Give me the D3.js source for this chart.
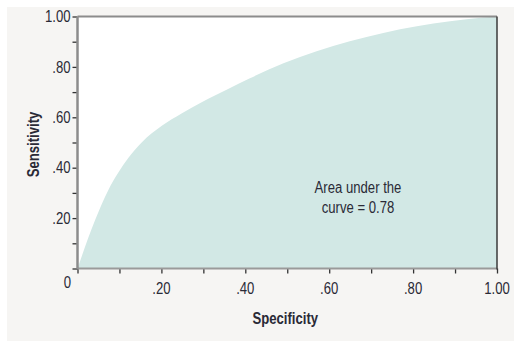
<!DOCTYPE html>
<html>
<head>
<meta charset="utf-8">
<script src="https://cdn.jsdelivr.net/npm/d3@7"></script>
<style>
  html, body { margin: 0; padding: 0; background: #ffffff; }
  svg { display: block; }
  text { font-family: "Liberation Sans", Arial, sans-serif; fill: #2a2a36; }
</style>
</head>
<body>
<svg id="chart" width="514" height="341"></svg>
<script>
// ROC curve: specificity (x) against sensitivity (y)
const specificity = [0, 0.042, 0.073, 0.097, 0.121, 0.153, 0.201, 0.248, 0.296, 0.359, 0.411, 0.491, 0.570, 0.649, 0.729, 0.809, 0.888, 0.967, 1.0];
const sensitivity = [0, 0.192, 0.310, 0.380, 0.438, 0.500, 0.566, 0.615, 0.660, 0.712, 0.755, 0.814, 0.862, 0.902, 0.935, 0.961, 0.981, 0.996, 1.0];
const tickValues = [0.2, 0.4, 0.6, 0.8, 1.0];
const tickLabels = [".20", ".40", ".60", ".80", "1.00"];
const minorTicks = [0, 0.1, 0.2, 0.3, 0.4, 0.5, 0.6, 0.7, 0.8, 0.9, 1.0];
const areaLabel = ["Area under the", "curve = 0.78"];

const svg = d3.select("#chart");
const plotL = 77.5, plotR = 497, plotT = 16.5, plotB = 268.5;
const narrow = 0.82; // horizontal squeeze for a condensed typeface look

// text placed at (x, y), squeezed horizontally
function label(sel, x, y, rot) {
  return sel.attr("transform", `translate(${x},${y})${rot ? ` rotate(${rot})` : ""} scale(${narrow},1)`);
}

// panel background
svg.append("rect").attr("x", 7).attr("y", 7).attr("width", 507).attr("height", 334).attr("fill", "#f6f5f3");
svg.append("rect").attr("x", plotL).attr("y", plotT).attr("width", plotR - plotL).attr("height", plotB - plotT).attr("fill", "#ffffff");

const x = d3.scaleLinear().domain([0, 1]).range([plotL, plotR]);
const y = d3.scaleLinear().domain([0, 1]).range([plotB, plotT]);

const pts = specificity.map((s, i) => [s, sensitivity[i]]);
const area = d3.area()
  .x(d => x(d[0]))
  .y0(y(0))
  .y1(d => y(d[1]))
  .curve(d3.curveMonotoneX);
svg.append("path").datum(pts).attr("d", area).attr("fill", "#d2e8e5");

// axes
const xAxis = d3.axisBottom(x).tickValues(minorTicks).tickSize(5).tickFormat("");
const yAxis = d3.axisLeft(y).tickValues(minorTicks).tickSize(5).tickFormat("");
const gx = svg.append("g").attr("transform", `translate(0,${plotB})`).call(xAxis);
const gy = svg.append("g").attr("transform", `translate(${plotL},0)`).call(yAxis);
gx.select(".domain").remove();
gy.select(".domain").remove();
gx.selectAll(".tick line").attr("stroke", "#333").attr("stroke-width", 1.3);
gy.selectAll(".tick line").attr("stroke", "#333").attr("stroke-width", 1.3);

// frame
svg.append("line").attr("x1", plotL).attr("x2", plotR).attr("y1", plotT).attr("y2", plotT).attr("stroke", "#8c8c8c").attr("stroke-width", 2);
svg.append("line").attr("x1", plotL).attr("x2", plotR).attr("y1", plotB).attr("y2", plotB).attr("stroke", "#9a9a9a").attr("stroke-width", 2);
svg.append("line").attr("x1", plotL).attr("x2", plotL).attr("y1", plotT).attr("y2", plotB).attr("stroke", "#8c8c8c").attr("stroke-width", 2.5);
svg.append("line").attr("x1", plotR).attr("x2", plotR).attr("y1", plotT).attr("y2", plotB + 1).attr("stroke", "#3a3a3a").attr("stroke-width", 1.5);

// tick labels
svg.selectAll(".ylab").data(tickValues).join("text")
  .each(function (d) { label(d3.select(this), plotL - 7, y(d)); })
  .attr("dy", "0.35em").attr("text-anchor", "end").attr("font-size", 16)
  .text((d, i) => tickLabels[i]);
svg.selectAll(".xlab").data(tickValues).join("text")
  .each(function (d) { label(d3.select(this), x(d), plotB + 20); })
  .attr("dy", "0.35em").attr("text-anchor", "middle").attr("font-size", 16)
  .text((d, i) => tickLabels[i]);
label(svg.append("text"), plotL - 10, plotB + 14)
  .attr("dy", "0.35em").attr("text-anchor", "middle").attr("font-size", 16).text("0");

// axis titles
label(svg.append("text"), (plotL + plotR) / 2 - 2, plotB + 55)
  .attr("text-anchor", "middle").attr("font-size", 16).attr("font-weight", "bold").text("Specificity");
label(svg.append("text"), 39, (plotT + plotB) / 2 + 2, -90)
  .attr("text-anchor", "middle").attr("font-size", 16).attr("font-weight", "bold").text("Sensitivity");

// annotation
svg.append("g").selectAll("text").data(areaLabel).join("text")
  .each(function (d, i) { label(d3.select(this), 358, 193 + i * 20); })
  .attr("text-anchor", "middle").attr("font-size", 16)
  .text(d => d);
</script>
</body>
</html>
